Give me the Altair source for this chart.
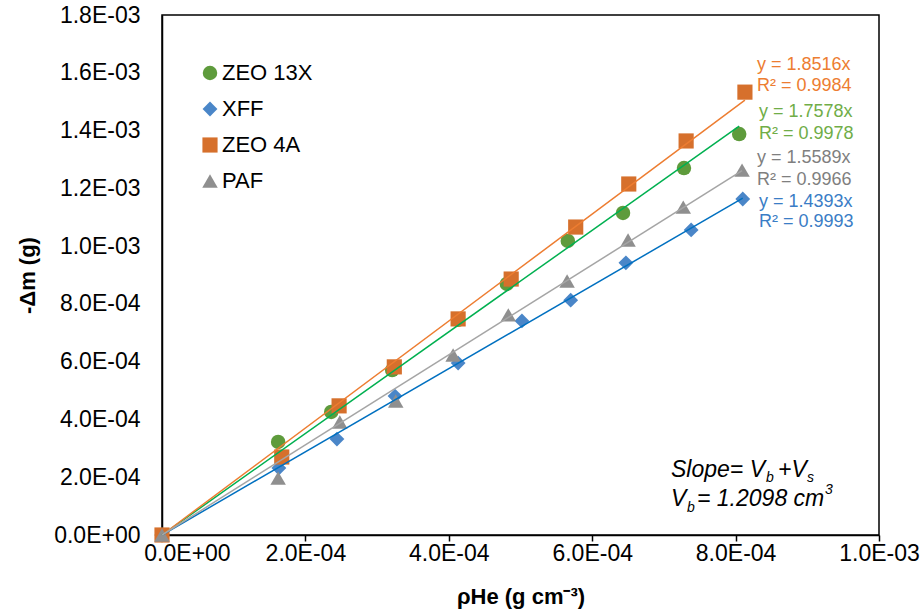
import altair as alt
import pandas as pd

series_names = ["ZEO 13X", "XFF", "ZEO 4A", "PAF"]

zeo13x_x = [0, 1.62e-4, 2.36e-4, 3.21e-4, 4.13e-4, 4.81e-4, 5.66e-4, 6.43e-4, 7.28e-4, 8.05e-4]
zeo13x_y = [0, 3.22e-4, 4.26e-4, 5.71e-4, 7.45e-4, 8.69e-4, 1.018e-3, 1.115e-3, 1.270e-3, 1.388e-3]
xff_x = [0, 1.63e-4, 2.44e-4, 3.25e-4, 4.13e-4, 5.02e-4, 5.70e-4, 6.47e-4, 7.38e-4, 8.10e-4]
xff_y = [0, 2.32e-4, 3.32e-4, 4.81e-4, 5.95e-4, 7.41e-4, 8.13e-4, 9.42e-4, 1.056e-3, 1.163e-3]
zeo4a_x = [0, 1.67e-4, 2.47e-4, 3.24e-4, 4.13e-4, 4.87e-4, 5.77e-4, 6.51e-4, 7.31e-4, 8.13e-4]
zeo4a_y = [0, 2.70e-4, 4.47e-4, 5.82e-4, 7.48e-4, 8.86e-4, 1.066e-3, 1.215e-3, 1.364e-3, 1.533e-3]
paf_x = [0, 1.62e-4, 2.48e-4, 3.26e-4, 4.06e-4, 4.83e-4, 5.65e-4, 6.50e-4, 7.27e-4, 8.09e-4]
paf_y = [0, 1.97e-4, 3.91e-4, 4.64e-4, 6.23e-4, 7.62e-4, 8.79e-4, 1.021e-3, 1.135e-3, 1.263e-3]

slopes = [1.7578, 1.4393, 1.8516, 1.5589]
r2_values = [0.9978, 0.9993, 0.9984, 0.9966]

x_ticks = [0, 2e-4, 4e-4, 6e-4, 8e-4, 1e-3]
y_ticks = [0, 2e-4, 4e-4, 6e-4, 8e-4, 1e-3, 1.2e-3, 1.4e-3, 1.6e-3, 1.8e-3]

marker_colors = ["#5E9B3C", "#4A86C8", "#D6702C", "#8F8F8F"]
line_colors = ["#00B050", "#0070C0", "#ED7D31", "#A5A5A5"]
label_colors = ["#70AD47", "#3A7DC6", "#ED7D31", "#7F7F7F"]
shapes = ["circle", "diamond", "square", "triangle-up"]
sizes = [210, 240, 220, 240]

FONT = "Liberation Sans"

xs = [zeo13x_x, xff_x, zeo4a_x, paf_x]
ys = [zeo13x_y, xff_y, zeo4a_y, paf_y]

rows = []
for i, name in enumerate(series_names):
    for xv, yv in zip(xs[i], ys[i]):
        rows.append({"series": name, "rho": xv, "dm": yv, "ord": i})
points_df = pd.DataFrame(rows)

line_rows = []
for i, name in enumerate(series_names):
    xm = max(xs[i])
    line_rows.append({"series": name, "rho": 0.0, "dm": 0.0})
    line_rows.append({"series": name, "rho": xm, "dm": slopes[i] * xm})
lines_df = pd.DataFrame(line_rows)

label_expr = "replace(replace(format(datum.value, '.1e'), 'e-', 'E-0'), 'e+', 'E+0')"

x_enc = alt.X("rho:Q", scale=alt.Scale(domain=[0, 1e-3], nice=False, zero=True),
              axis=alt.Axis(values=x_ticks, labelExpr=label_expr, title="ρHe (g cm⁻³)",
                            tickSize=6, labelPadding=1, titlePadding=21, labelFlush=False,
                            labelOffset={"condition": {"test": "datum.value === 0", "value": 25}, "value": 0}))
y_enc = alt.Y("dm:Q", scale=alt.Scale(domain=[0, 1.8e-3], nice=False, zero=True),
              axis=alt.Axis(values=y_ticks, labelExpr=label_expr, title="-Δm (g)",
                            ticks=False, labelPadding=22, titlePadding=14, labelFlush=False))

legend_kw = dict(title=None, orient="none", legendX=37, legendY=47,
                 labelFontSize=22, labelFont=FONT, labelColor="#000",
                 symbolSize=190, rowPadding=14, labelOffset=1,
                 padding=0, symbolStrokeWidth=0, symbolOpacity=1)

points = alt.Chart(points_df).mark_point(filled=True, opacity=1, strokeWidth=0).encode(
    x=x_enc,
    y=y_enc,
    color=alt.Color("series:N", sort=series_names,
                    scale=alt.Scale(domain=series_names, range=marker_colors),
                    legend=alt.Legend(**legend_kw)),
    shape=alt.Shape("series:N", sort=series_names,
                    scale=alt.Scale(domain=series_names, range=shapes),
                    legend=alt.Legend(**legend_kw)),
    size=alt.Size("series:N", scale=alt.Scale(domain=series_names, range=sizes), legend=None),
    order=alt.Order("ord:Q"),
)

lines = alt.Chart(lines_df).mark_line(strokeWidth=1.5).encode(
    x="rho:Q",
    y="dm:Q",
    stroke=alt.Stroke("series:N", scale=alt.Scale(domain=series_names, range=line_colors), legend=None),
    detail="series:N",
)

dummy = pd.DataFrame({"a": [0]})

# trendline equation labels (plot-area pixel positions)
label_pos = {"ZEO 4A": (595, 50, 71), "ZEO 13X": (597, 97, 119), "PAF": (595, 143, 165), "XFF": (597, 187, 207)}
label_layers = []
for i, name in enumerate(series_names):
    lx, ly1, ly2 = label_pos[name]
    for txt, ly in ((f"y = {slopes[i]:.4f}x", ly1), (f"R² = {r2_values[i]:.4f}", ly2)):
        label_layers.append(
            alt.Chart(dummy).mark_text(text=txt, align="left", baseline="middle", font=FONT,
                                       fontSize=18, color=label_colors[i])
            .encode(x=alt.value(lx), y=alt.value(ly))
        )

# Slope annotation with subscripts (plot-area pixel positions)
ann_parts = [
    ("Slope= V", 509, 455, 23),
    ("b", 604, 463, 14),
    ("+V", 616, 455, 23),
    ("s", 645, 463, 14),
    ("V", 509, 484, 23),
    ("b", 525, 493, 14),
    ("= 1.2098 cm", 535, 484, 23),
    ("3", 663, 475, 14),
]
ann_layers = []
for txt, ax, ay, fs in ann_parts:
    ann_layers.append(
        alt.Chart(dummy).mark_text(text=txt, align="left", baseline="middle", font=FONT,
                                   fontSize=fs, fontStyle="italic", color="#000")
        .encode(x=alt.value(ax), y=alt.value(ay))
    )

chart = alt.layer(points, lines, *label_layers, *ann_layers).properties(
    width=717, height=520,
    autosize=alt.AutoSizeParams(type="none"),
    padding={"left": 162, "top": 15, "right": 44, "bottom": 81},
).configure_view(
    stroke="#000", strokeWidth=1.5
).configure_axis(
    grid=False, domainColor="#000", domainWidth=1.5, tickColor="#000", tickWidth=1.5,
    labelFont=FONT, labelFontSize=23, labelColor="#000",
    titleFont=FONT, titleFontSize=22, titleFontWeight="bold", titleColor="#000",
)

chart.save("out.html", embed_options={"renderer": "svg", "actions": False})
